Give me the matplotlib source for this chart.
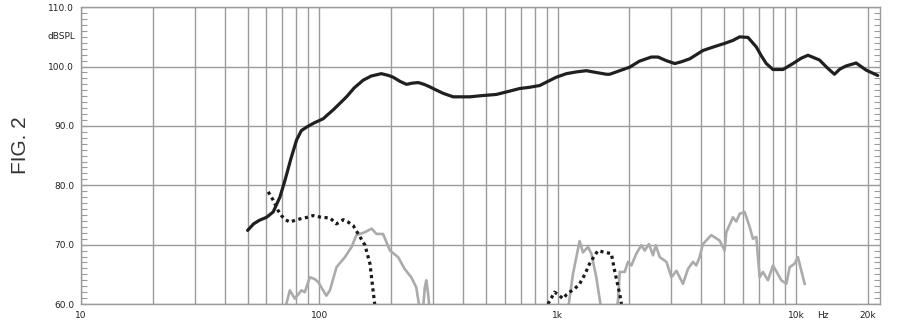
import numpy as np
import matplotlib.pyplot as plt
from matplotlib.ticker import FixedLocator, MultipleLocator, NullFormatter
from matplotlib.transforms import blended_transform_factory

# Main response (solid black)
main_hz = [50, 53, 56, 60, 64, 68.3, 71.7, 76, 80.2, 84, 88.4, 95, 103.7, 115, 130, 140,
           152.7, 165, 182, 195, 204, 218, 232, 245, 260, 275, 290, 300, 330, 364, 428, 480,
           553, 620, 693, 760, 840, 920, 986, 1087, 1200, 1318, 1450, 1600, 1652, 1820, 2005,
           2200, 2470, 2636, 2850, 3098, 3300, 3580, 4067, 4500, 5015, 5433, 5797, 6285, 6810,
           7150, 7500, 8000, 8810, 9700, 10500, 11220, 12540, 13500, 14480, 15300, 16220,
           17860, 19670, 22000]
main_db = [72.4, 73.5, 74.1, 74.6, 75.5, 78.0, 80.8, 84.5, 87.6, 89.2, 89.8, 90.5, 91.2, 92.8,
           94.9, 96.4, 97.7, 98.4, 98.8, 98.5, 98.2, 97.5, 97.0, 97.2, 97.3, 97.0, 96.6, 96.3,
           95.5, 94.9, 94.9, 95.1, 95.3, 95.8, 96.3, 96.5, 96.8, 97.6, 98.2, 98.8, 99.1, 99.3,
           99.0, 98.7, 98.7, 99.3, 99.9, 100.9, 101.6, 101.6, 101.0, 100.5, 100.8, 101.3, 102.7,
           103.3, 103.9, 104.4, 105.0, 104.9, 103.3, 101.8, 100.5, 99.5, 99.5, 100.5, 101.4,
           101.9, 101.1, 99.8, 98.7, 99.6, 100.1, 100.6, 99.4, 98.5]

# Dotted curves
dot1_hz = [61, 64, 67, 69.3, 72, 75.2, 79, 84.1, 89, 94.2, 102, 110.7, 118, 126, 132, 138.7,
           145.6, 155.4, 163, 168, 171]
dot1_db = [78.9, 77.5, 75.8, 74.9, 74.2, 73.8, 74.1, 74.4, 74.6, 74.9, 74.6, 74.5, 73.5, 74.2,
           73.8, 73.2, 71.8, 69.9, 66.8, 62.3, 59.7]
dot2_hz = [910, 940, 970, 1010, 1052, 1090, 1122, 1180, 1236, 1300, 1361, 1420, 1475, 1574,
           1678, 1733, 1790, 1820, 1850]
dot2_db = [60.0, 61.0, 62.0, 61.5, 60.9, 61.6, 62.0, 62.6, 63.4, 65.0, 66.8, 68.0, 69.0, 68.7,
           68.5, 65.6, 63.0, 61.7, 60.0]

# Gray curves
gray1_hz = [71.6, 75.2, 78.9, 84.1, 86.9, 91.2, 95.7, 98.9, 103, 107, 110.7, 118, 128, 136.5,
            143, 155.4, 165.6, 173.8, 185, 197.8, 214, 228, 243, 255, 264, 272, 277, 281, 286,
            290]
gray1_db = [59.0, 62.3, 60.9, 62.3, 62.0, 64.5, 64.2, 63.7, 62.5, 61.4, 62.3, 66.2, 67.9, 69.6,
            71.6, 72.1, 72.7, 71.8, 71.8, 69.0, 67.9, 65.9, 64.5, 62.8, 59.0, 59.0, 62.8, 64.0,
            61.7, 59.0]
gray2_hz = [1104, 1159, 1197, 1236, 1276, 1340, 1384, 1452, 1524, 1760, 1791, 1820, 1910, 1972,
            2037, 2138, 2244, 2317, 2415, 2510, 2578, 2679, 2858, 2999, 3147, 3353, 3519, 3694,
            3813, 3938, 4066, 4407, 4777, 5014, 5097, 5433, 5612, 5797, 6085, 6383, 6592, 6810,
            7031, 7262, 7622, 8000, 8670, 9100, 9400, 9860, 10180, 10860]
gray2_db = [59.0, 65.1, 67.9, 70.6, 68.7, 69.6, 68.5, 64.5, 59.0, 59.0, 60.6, 65.4, 65.4, 67.1,
            66.5, 68.5, 69.9, 69.0, 70.1, 68.2, 69.9, 67.9, 67.1, 64.5, 65.6, 63.4, 65.9, 67.1,
            66.5, 67.9, 70.1, 71.6, 70.7, 69.0, 72.1, 74.6, 73.9, 75.2, 75.5, 73.0, 71.0, 71.3,
            64.5, 65.4, 64.0, 66.5, 64.0, 63.4, 66.2, 66.8, 67.9, 63.4]

x_labels = ['10', '100', '1k', '10k', '20k']
x_label_pos = [10, 100, 1000, 10000, 20000]

grid_col = '#9c9c9c'

fig = plt.figure(figsize=(9.08, 3.23), dpi=100)
ax = fig.add_axes([0.0892, 0.0588, 0.88, 0.919])

ax.set_xscale('log')
ax.set_xlim(10, 22500)
ax.set_ylim(60, 110)

# grid lines
minor_x = [m * d for d in (10, 100, 1000) for m in range(2, 10)]
minor_x = [v for v in minor_x if v not in x_label_pos]
ax.xaxis.set_major_locator(FixedLocator(x_label_pos))
ax.xaxis.set_minor_locator(FixedLocator(minor_x))
ax.xaxis.set_minor_formatter(NullFormatter())
ax.set_xticklabels(x_labels)
ax.yaxis.set_major_locator(MultipleLocator(10))
ax.yaxis.set_minor_locator(MultipleLocator(1))
ax.yaxis.set_major_formatter(lambda v, p: f'{v:.1f}')
ax.grid(True, which='both', axis='x', color=grid_col, linewidth=1.0)
ax.grid(True, which='major', axis='y', color=grid_col, linewidth=1.0)
ax.set_axisbelow(True)

ax.tick_params(axis='x', which='both', length=0, pad=5, labelsize=6.5, labelcolor='#222222')
ax.tick_params(axis='y', which='both', direction='in', left=True, right=True, length=4,
               width=0.8, color=grid_col, pad=5, labelsize=6.5, labelcolor='#222222')
for s in ax.spines.values():
    s.set_color(grid_col)
    s.set_linewidth(1.0)

# curves
ax.plot(gray1_hz, gray1_db, color='#ababab', lw=1.9, solid_joinstyle='round')
ax.plot(gray2_hz, gray2_db, color='#ababab', lw=1.9, solid_joinstyle='round')
ax.plot(dot1_hz, dot1_db, color='#1a1a1a', lw=2.3, linestyle=(0, (1, 1.1)))
ax.plot(dot2_hz, dot2_db, color='#1a1a1a', lw=2.3, linestyle=(0, (1, 1.1)))
ax.plot(main_hz, main_db, color='#231f20', lw=2.3, solid_capstyle='round',
        solid_joinstyle='round')

# extra labels
ax.text(-0.007, 105, 'dBSPL', transform=blended_transform_factory(ax.transAxes, ax.transData),
        ha='right', va='center', fontsize=6.5, color='#222222')
ax.text(12900, -0.025, 'Hz', transform=blended_transform_factory(ax.transData, ax.transAxes),
        ha='center', va='top', fontsize=6.5, color='#222222')

fig.text(20 / 908, 1 - 145 / 323, 'FIG. 2', rotation=90, ha='center', va='center',
         fontsize=15, color='#333333', family='Liberation Sans')

fig.savefig('out.png', dpi=100)
